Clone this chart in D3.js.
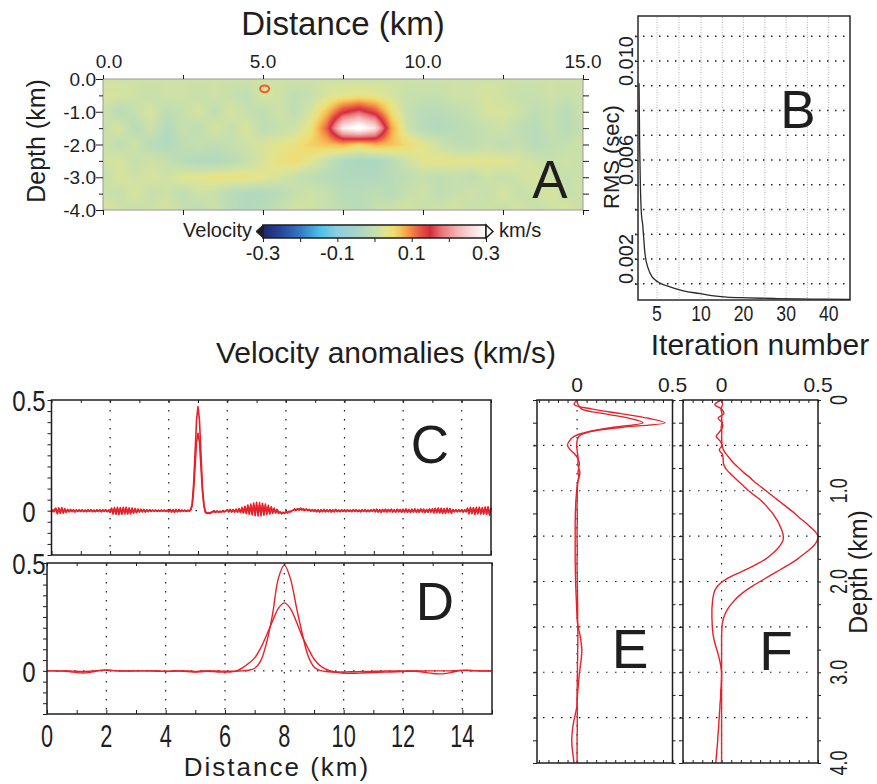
<!DOCTYPE html>
<html>
<head>
<meta charset="utf-8">
<script src="https://cdn.jsdelivr.net/npm/d3@7"></script>
<style>
  body { margin: 0; background: #fff; }
  svg { display: block; }
</style>
</head>
<body>
<svg id="fig" width="877" height="784"></svg>
<script>
// ---------------- data ----------------
// panel A: velocity anomaly (km/s), one row per depth 0..4 km (step 0.5), columns distance 0..15 km (step 0.5)
const gridStep = 0.5;
const gridA = [
  [0.01,0.01,0.01,0.01,0.01,0.01,0.01,0.01,0.01,0.01,0.015,0.01,0.01,0.01,0.01,0.01,0.01,0.01,0.01,0.01,0.01,0.01,0.01,0.01,0.01,0.01,0.01,0.01,0.01,0.01,0.01],
  [0.02,0.02,0.01,0.0,0.01,0.01,0.0,0.01,0.0,-0.01,0.02,0.01,-0.01,0.0,0.02,0.03,0.035,0.03,0.02,0.0,0.0,0.0,0.01,0.01,0.02,0.01,0.0,0.0,0.01,0.0,0.01],
  [0.01,-0.02,0.0,0.02,-0.01,0.0,0.02,-0.01,0.02,0.0,-0.01,0.01,-0.01,0.02,0.07,0.14,0.17,0.13,0.05,0.0,-0.02,-0.02,-0.01,0.0,0.02,0.02,0.01,-0.01,0.0,-0.02,0.01],
  [0.0,0.02,-0.02,0.01,-0.03,0.0,-0.01,0.02,0.0,0.02,-0.01,0.0,0.01,0.04,0.12,0.28,0.32,0.27,0.09,0.01,-0.02,-0.03,-0.02,-0.01,0.0,0.01,-0.01,-0.02,0.0,-0.02,0.0],
  [0.01,-0.01,0.01,-0.02,-0.03,-0.01,0.0,-0.01,0.0,0.01,0.02,0.03,0.04,0.06,0.07,0.08,0.06,0.08,0.07,0.05,0.03,0.01,-0.01,-0.01,0.0,-0.01,0.0,-0.02,-0.01,0.0,0.01],
  [0.01,0.02,0.0,0.01,0.0,-0.02,-0.03,-0.03,-0.02,0.0,0.02,0.04,0.05,0.03,0.0,-0.03,-0.04,-0.04,-0.02,0.01,0.03,0.035,0.03,0.03,0.03,0.03,0.02,0.01,0.0,0.01,0.0],
  [0.0,0.02,0.01,0.02,0.01,0.03,0.03,0.04,0.04,0.04,0.03,0.02,0.0,-0.01,-0.02,-0.03,-0.03,-0.03,-0.02,-0.01,0.0,-0.01,0.0,-0.01,0.01,0.0,0.01,0.02,0.01,0.0,0.01],
  [0.01,0.0,0.02,0.0,0.01,-0.01,0.01,0.0,-0.02,-0.03,-0.03,-0.02,0.0,0.01,0.0,-0.02,-0.02,-0.01,-0.02,0.0,0.01,-0.01,0.0,0.01,0.0,0.02,0.0,0.01,0.02,0.0,0.01],
  [0.02,0.01,0.0,0.01,0.02,0.0,-0.01,0.01,-0.02,-0.03,-0.02,0.0,0.02,0.01,0.0,-0.01,-0.02,0.0,0.01,0.02,0.0,0.01,0.02,0.0,0.01,0.0,0.02,0.0,0.01,0.02,0.0]
];
// small shallow body near 5 km
const smallBody = { dist: 5.05, depth: 0.3, rim: 0.12, core: 0.04 };
// colour bar (km/s -> colour)
const colorStops = [
  [-0.3, "#1d2570"], [-0.25, "#27489c"], [-0.2, "#3479c2"], [-0.15, "#49bde9"], [-0.1, "#8ed0e0"],
  [-0.05, "#a6d4c8"], [-0.02, "#b8dbb8"], [0.0, "#c6dfae"], [0.015, "#d2e2a2"], [0.03, "#e2e48e"],
  [0.05, "#efdd72"], [0.07, "#f5c25a"], [0.09, "#f59a45"], [0.12, "#e85a45"], [0.15, "#d42c3c"],
  [0.18, "#e87478"], [0.22, "#f3b0b0"], [0.26, "#fadada"], [0.3, "#ffffff"]
];
const barTicks = [-0.3, -0.2, -0.1, 0, 0.1, 0.2, 0.3];
const barLabels = [-0.3, -0.1, 0.1, 0.3];

// panel B: RMS misfit by iteration
const rmsIter = [2.92, 3.0, 3.08, 3.2, 3.34, 3.45, 3.61, 4.0, 4.4, 4.8, 5.2, 6.0, 6.9, 8.0, 9.9, 12.5, 16, 21, 28, 36, 45];
const rmsValue = [0.0091, 0.0064, 0.0049, 0.0038, 0.0034, 0.0029, 0.0022, 0.0016, 0.0013, 0.00115, 0.00105, 0.00093, 0.00082, 0.00071, 0.0006, 0.00052, 0.00046, 0.00043, 0.0004, 0.00038, 0.00037];
const rmsGridX = [5, 7.5, 10, 15, 20, 25, 30, 35, 40];
const rmsLabelX = [5, 10, 20, 30, 40];
const rmsGridY = [0.001, 0.002, 0.003, 0.004, 0.005, 0.006, 0.007, 0.008, 0.009, 0.010, 0.011];
const rmsLabelY = [0.010, 0.006, 0.002];

// panel C: profile at 0.05 km spacing (values in m/s), two models
const cStep = 0.05;
const cTrue = [
  2,-4,5,12,-14,13,-12,14,-11,10,-8,6,-5,6,-4,5,-6,4,-3,4,
  -3,4,-4,3,-4,4,-3,5,-4,3,-4,4,-3,4,-5,4,-3,5,-4,3,
  -8,12,-15,14,-16,15,-17,14,-16,15,-14,16,-15,13,-14,12,-11,10,-9,8,
  -6,7,-5,6,-6,5,-4,5,-3,3,-2,3,-3,2,-3,3,-2,3,-3,2,
  -5,6,-6,5,-7,6,-5,6,-4,3,-2,2,-3,2,-2,5,30,120,260,410,
  470,410,260,110,30,-8,-12,-10,-13,-9,-5,-3,-8,-2,-7,-4,-6,-2,-5,-1,
  4,-5,6,-6,5,-6,7,-7,10,-8,15,-10,20,-13,26,-16,30,-19,35,-22,
  38,-24,37,-23,34,-20,30,-17,24,-15,18,-12,12,-10,6,-12,-6,-14,-9,-12,
  -7,-10,-4,-6,0,2,8,2,10,3,12,4,9,2,8,1,6,-2,5,-3,
  5,-5,4,-6,5,-4,6,-5,4,-4,5,-6,4,-5,6,-4,3,-5,4,-3,
  3,-4,4,-3,3,-4,5,-3,4,-4,3,-5,4,-3,5,-4,3,-4,5,-3,
  6,-5,7,-6,5,-7,6,-5,7,-6,6,-5,7,-6,5,-6,7,-5,6,-7,
  7,-6,8,-7,6,-8,7,-6,8,-7,6,-7,8,-6,7,-8,6,-7,8,-6,
  9,-10,11,-9,12,-10,11,-12,10,-11,12,-9,10,-11,6,-5,4,-5,5,-4,
  5,-6,4,-5,12,-14,15,-13,14,-16,15,-14,16,-15,14,-15,17,-16,18,-20,
  15
];
const cInv = [
  0,3,-4,8,-10,9,-8,10,-7,6,-5,4,-3,4,-3,3,-4,3,-2,3,
  -2,3,-3,2,-3,3,-2,3,-3,2,-3,3,-2,3,-3,3,-2,3,-3,2,
  -5,8,-10,10,-11,10,-12,10,-11,10,-10,11,-10,9,-10,8,-8,7,-6,5,
  -4,5,-4,4,-4,3,-3,3,-2,2,-2,2,-2,2,-2,2,-2,2,-2,2,
  -3,4,-4,4,-5,4,-4,4,-3,2,-2,2,-2,1,0,3,20,90,200,310,
  350,310,200,90,25,-4,-9,-8,-10,-7,-4,-2,-6,-2,-5,-3,-4,-2,-4,-1,
  3,-4,4,-4,4,-4,5,-5,7,-6,10,-7,14,-9,18,-11,21,-13,24,-15,
  26,-16,25,-16,23,-14,21,-12,17,-10,13,-8,8,-8,4,-9,-5,-10,-7,-9,
  -5,-7,-3,-4,0,2,6,2,8,3,9,3,7,2,6,1,4,-1,4,-2,
  3,-3,3,-4,3,-3,4,-3,3,-3,3,-4,3,-3,4,-3,2,-3,3,-2,
  2,-3,3,-2,2,-3,3,-2,3,-3,2,-3,3,-2,3,-3,2,-3,3,-2,
  4,-3,5,-4,3,-5,4,-3,5,-4,4,-3,5,-4,3,-4,5,-3,4,-5,
  5,-4,6,-5,4,-6,5,-4,6,-5,4,-5,6,-4,5,-6,4,-5,6,-4,
  6,-7,8,-6,8,-7,8,-8,7,-8,8,-6,7,-8,4,-3,3,-3,3,-3,
  3,-4,3,-3,8,-10,10,-9,10,-11,10,-10,11,-10,10,-10,12,-11,12,-14,
  10
];

// panel D: profile at 0.2 km spacing (m/s)
const dStep = 0.2;
const dTrue = [
  0,0,0,0,0,-2,-3,-2,0,2,
  3,1,0,0,0,0,0,0,0,-1,
  -2,-1,0,0,-1,-3,-1,0,0,-1,
  -2,-2,-1,0,3,12,45,130,260,430,
  490,430,300,175,70,18,2,-3,-5,-5,
  -5,-4,-4,-3,-3,-2,-2,-1,-1,0,
  0,0,0,0,0,0,0,0,0,1,
  2,1,0,0,0,0
];
const dInv = [
  0,0,-1,-2,-4,-8,-10,-8,-3,2,
  4,2,0,-1,-1,0,0,0,-1,-2,
  -3,-2,-1,-2,-4,-6,-4,-2,-3,-5,
  -6,-5,0,15,35,60,105,165,230,290,
  315,290,230,160,105,55,25,8,-2,-8,
  -10,-11,-11,-10,-9,-8,-7,-6,-5,-4,
  -3,-2,-2,-4,-8,-12,-14,-13,-8,-2,
  2,3,1,0,-1,0
];

// panels E, F: vertical profiles at 0.05 km depth spacing (m/s)
const zStep = 0.05;
const eTrue = [
  0,-15,80,230,370,460,240,60,-15,-40,
  -50,-35,-10,5,12,8,15,10,4,0,
  -2,-4,-6,-7,-8,-9,-9,-10,-10,-10,
  -10,-10,-10,-10,-10,-10,-10,-9,-9,-8,
  -8,-7,-6,-5,-4,-3,-2,-1,0,2,
  6,11,16,20,23,25,24,22,19,16,
  13,10,8,6,4,2,1,0,-3,-8,
  -13,-18,-22,-25,-27,-28,-27,-25,-22,-19,
  -16
];
const eInv = [
  0,5,25,140,270,345,190,65,10,0,
  -2,0,3,6,4,8,5,9,4,2,
  1,1,1,0,0,1,1,1,0,0,
  0,0,1,1,1,0,0,0,1,1,
  1,1,2,2,2,3,3,3,3,3,
  3,4,4,4,4,3,3,3,2,2,
  2,1,1,1,0,0,0,0,1,1,
  1,1,1,1,0,0,0,0,0,0,
  0
];
const fTrue = [
  0,5,-3,2,0,2,-2,1,0,1,
  3,10,25,45,65,90,115,145,170,200,
  230,260,290,320,350,380,405,435,460,485,
  500,495,480,455,425,395,360,320,280,240,
  200,160,125,95,70,50,33,20,11,5,
  2,1,0,0,0,0,0,0,0,0,
  0,0,0,0,0,0,0,0,0,0,
  0,0,0,0,0,0,0,0,0,0,
  0
];
const fInv = [
  0,-35,0,12,-18,3,5,-10,-28,-8,
  2,-12,5,8,10,20,40,65,90,115,
  140,170,200,225,245,265,280,295,305,315,
  320,318,305,285,260,230,190,145,95,45,
  5,-20,-35,-42,-46,-48,-50,-50,-50,-49,
  -48,-46,-43,-38,-32,-25,-18,-12,-7,-3,
  0,0,-1,-2,-4,-5,-6,-8,-9,-11,
  -12,-14,-15,-17,-19,-20,-22,-24,-26,-28,
  -30
];

// ---------------- drawing ----------------
const svg = d3.select("#fig");
const INK = "#1e1e1e";
const RED = "#e8202a";
const SANS = "Liberation Sans, Arial, Helvetica, sans-serif";

function label(x, y, text, size, opts = {}) {
  const t = svg.append("text")
    .attr("x", x).attr("y", y)
    .attr("font-size", size)
    .attr("font-family", SANS)
    .attr("fill", INK)
    .attr("text-anchor", opts.anchor || "middle")
    .text(text);
  if (opts.rotate) t.attr("transform", `rotate(${opts.rotate},${x},${y})`);
  return t;
}

// squeeze glyphs horizontally to mimic the condensed numerals of the original
function condense(sel, ratio) {
  sel.each(function () {
    const w = this.getComputedTextLength();
    d3.select(this).attr("textLength", w * ratio).attr("lengthAdjust", "spacingAndGlyphs");
  });
}

function ticks(axis, at, values, size) {   // tick marks only
  svg.append("g").attr("transform", at)
    .call(axis.tickValues(values).tickSize(size).tickFormat(""))
    .call(g => g.select(".domain").remove())
    .call(g => g.selectAll("line").attr("stroke", INK).attr("stroke-width", 1));
}

function frame(x0, y0, x1, y1, color = INK, w = 1.5) {
  svg.append("rect").attr("x", x0).attr("y", y0)
    .attr("width", x1 - x0).attr("height", y1 - y0)
    .attr("fill", "none").attr("stroke", color).attr("stroke-width", w);
}

function dotGrid(lines, dash = "1.5,7.5", color = INK, w = 1.2) {
  svg.append("g").selectAll("line").data(lines).join("line")
    .attr("x1", d => d[0]).attr("y1", d => d[1])
    .attr("x2", d => d[2]).attr("y2", d => d[3])
    .attr("stroke", color).attr("stroke-width", w)
    .attr("stroke-dasharray", dash);
}

// ===== panel A =====
const xA = d3.scaleLinear().domain([0, 15]).range([103, 583]);
const yA = d3.scaleLinear().domain([0, -4]).range([79, 210]);
const vColor = d3.scaleLinear()
  .domain(colorStops.map(s => s[0]))
  .range(colorStops.map(s => s[1]))
  .clamp(true);

function sampleGrid(km, dep) {   // bilinear lookup in the grid, for the raster only
  const nx = gridA[0].length, nz = gridA.length;
  const fx = Math.max(0, Math.min(nx - 1.0001, km / gridStep));
  const fz = Math.max(0, Math.min(nz - 1.0001, dep / gridStep));
  const i = Math.floor(fx), j = Math.floor(fz);
  const tx = fx - i, tz = fz - j;
  return (1 - tx) * (1 - tz) * gridA[j][i] + tx * (1 - tz) * gridA[j][i + 1]
       + (1 - tx) * tz * gridA[j + 1][i] + tx * tz * gridA[j + 1][i + 1];
}

{
  const x0 = xA.range()[0], y0 = yA.range()[0];
  const W = Math.round(xA.range()[1] - x0), H = Math.round(yA.range()[1] - y0);
  const canvas = document.createElement("canvas");
  canvas.width = W; canvas.height = H;
  const ctx = canvas.getContext("2d");
  const img = ctx.createImageData(W, H);
  for (let py = 0; py < H; py++) {
    const dep = -yA.invert(y0 + py + 0.5);
    for (let px = 0; px < W; px++) {
      const km = xA.invert(x0 + px + 0.5);
      const c = d3.rgb(vColor(sampleGrid(km, dep)));
      const k = 4 * (py * W + px);
      img.data[k] = c.r; img.data[k + 1] = c.g; img.data[k + 2] = c.b; img.data[k + 3] = 255;
    }
  }
  ctx.putImageData(img, 0, 0);
  svg.append("image").attr("x", x0).attr("y", y0).attr("width", W).attr("height", H)
    .attr("preserveAspectRatio", "none")
    .attr("href", canvas.toDataURL());
}

svg.append("ellipse")
  .attr("cx", xA(smallBody.dist)).attr("cy", yA(-smallBody.depth))
  .attr("rx", 4.5).attr("ry", 3.4)
  .attr("fill", vColor(smallBody.core))
  .attr("stroke", vColor(smallBody.rim)).attr("stroke-width", 2);

frame(103, 79, 583, 210, "#9a9a9a", 1);

const kmTicks = [0, 2.5, 5, 7.5, 10, 12.5, 15];
ticks(d3.axisTop(xA), "translate(0,79)", kmTicks, 4);
ticks(d3.axisBottom(xA), "translate(0,210)", kmTicks, 5);
ticks(d3.axisLeft(yA), "translate(103,0)", [-0.5, -1.5, -2.5, -3.5], 4);
ticks(d3.axisLeft(yA), "translate(103,0)", [0, -1, -2, -3, -4], 7);
ticks(d3.axisRight(yA), "translate(583,0)", [0, -0.5, -1, -1.5, -2, -2.5, -3, -3.5, -4], 6);

svg.append("g").selectAll("text").data([0, 5, 10, 15]).join("text")
  .attr("x", d => xA(d) + (d === 0 ? 6 : 0)).attr("y", 68)
  .attr("text-anchor", "middle").attr("font-size", 19).attr("font-family", SANS).attr("fill", INK)
  .text(d => d.toFixed(1));
svg.append("g").selectAll("text").data([0, -1, -2, -3, -4]).join("text")
  .attr("x", 96).attr("y", d => yA(d) + 7)
  .attr("text-anchor", "end").attr("font-size", 19).attr("font-family", SANS).attr("fill", INK)
  .text(d => d.toFixed(1));

label(343, 35, "Distance (km)", 33);
label(45, 141, "Depth (km)", 25, { rotate: -90 });
label(550, 198, "A", 53);

// colour bar
const xBar = d3.scaleLinear().domain([-0.3, 0.3]).range([263, 486]);
const grad = svg.append("defs").append("linearGradient").attr("id", "vgrad");
grad.selectAll("stop").data(colorStops).join("stop")
  .attr("offset", d => (d[0] + 0.3) / 0.6)
  .attr("stop-color", d => d[1]);
svg.append("rect").attr("x", xBar(-0.3)).attr("y", 225)
  .attr("width", xBar(0.3) - xBar(-0.3)).attr("height", 13)
  .attr("fill", "url(#vgrad)").attr("stroke", INK).attr("stroke-width", 1.5);
svg.append("path").attr("d", `M${xBar(-0.3)},225 L${xBar(-0.3) - 7},231.5 L${xBar(-0.3)},238 Z`)
  .attr("fill", INK).attr("stroke", INK);
svg.append("path").attr("d", `M${xBar(0.3)},225 L${xBar(0.3) + 7},231.5 L${xBar(0.3)},238 Z`)
  .attr("fill", "#fff").attr("stroke", INK).attr("stroke-width", 1.5);
ticks(d3.axisBottom(xBar), "translate(0,238)", barTicks, 4);
svg.append("g").selectAll("text").data(barLabels).join("text")
  .attr("x", d => xBar(d)).attr("y", 260)
  .attr("text-anchor", "middle").attr("font-size", 20).attr("font-family", SANS).attr("fill", INK)
  .text(d => d.toFixed(1));
label(252, 237, "Velocity", 20, { anchor: "end" });
label(499, 237, "km/s", 20, { anchor: "start" });

// ===== panel B =====
const xB = d3.scaleLinear().domain([2.8, 5, 10, 45]).range([638, 657, 701, 850]);
const yB = d3.scaleLinear().domain([0.000343, 0.01182]).range([300, 16]);

dotGrid(rmsGridX.map(v => [xB(v), 17, xB(v), 299]), "1,1.5", "#b4b4b4", 1);
dotGrid(rmsGridY.map(v => [635, yB(v), 849, yB(v)]), "1.5,6.5", INK, 1.4);
ticks(d3.axisLeft(yB), "translate(638,0)", rmsGridY, 3);

svg.append("path")
  .datum(rmsIter.map((it, i) => [it, rmsValue[i]]))
  .attr("fill", "none").attr("stroke", "#2a2a2a").attr("stroke-width", 1.3)
  .attr("d", d3.line().x(d => xB(d[0])).y(d => yB(d[1])).curve(d3.curveMonotoneX));

frame(638, 16, 850, 300, "#2a2a2a", 1.5);

svg.append("g").selectAll("text").data(rmsLabelX).join("text")
  .attr("x", d => xB(d)).attr("y", 321)
  .attr("text-anchor", "middle").attr("font-size", 22).attr("font-family", SANS).attr("fill", INK)
  .text(d => d)
  .call(condense, 0.8);
svg.append("g").selectAll("text").data(rmsLabelY).join("text")
  .attr("transform", d => `translate(633,${yB(d)}) rotate(-90)`)
  .attr("text-anchor", "middle").attr("font-size", 20).attr("font-family", SANS).attr("fill", INK)
  .text(d => d.toFixed(3));
label(619, 157, "RMS (sec)", 22, { rotate: -90 });
label(760, 355, "Iteration number", 30);
label(798, 128, "B", 53);

label(386, 363, "Velocity anomalies (km/s)", 30);

// ===== panels C, D =====
const yC = d3.scaleLinear().domain([-0.2, 0.5]).range([555, 400]);
const xC = d3.scaleLinear().domain([0, 15]).range([51.5, 491]);
const yD = d3.scaleLinear().domain([-0.2, 0.5]).range([714, 563]);
const xD = d3.scaleLinear().domain([0, 15]).range([47, 492]);

const gridKm = [2, 4, 6, 8, 10, 12, 14];
const kmEvery = d3.range(0, 15.01, 1);
const ampEvery = d3.range(-0.2, 0.501, 0.05);

function profilePanel(x, y, step, series, curve, width) {
  const [xa, xb] = x.range(), [ya, yb] = y.range();
  dotGrid(gridKm.map(v => [x(v), yb + 1, x(v), ya - 1]));
  dotGrid([[xa, y(0), xb, y(0)]]);
  ticks(d3.axisLeft(y), `translate(${xa},0)`, ampEvery, 4);
  ticks(d3.axisTop(x), `translate(0,${ya})`, kmEvery, 4);
  ticks(d3.axisBottom(x), `translate(0,${yb})`, kmEvery, 3);
  const line = d3.line().x((d, i) => x(i * step)).y(d => y(d / 1000)).curve(curve);
  series.forEach(s => svg.append("path").datum(s)
    .attr("fill", "none").attr("stroke", RED).attr("stroke-width", width)
    .attr("stroke-linejoin", "round").attr("d", line));
  frame(xa, yb, xb, ya);
}

profilePanel(xC, yC, cStep, [cTrue, cInv], d3.curveLinear, 1.6);
profilePanel(xD, yD, dStep, [dTrue, dInv], d3.curveCatmullRom, 1.4);

[[yC, [0, 0.5]], [yD, [0, 0.5]]].forEach(([y, vals]) => {
  svg.append("g").selectAll("text").data(vals).join("text")
    .attr("x", 29).attr("y", d => y(d) + 11)
    .attr("text-anchor", "middle").attr("font-size", 30).attr("font-family", SANS).attr("fill", INK)
    .text(d => d)
    .call(condense, 0.8);
});
svg.append("g").selectAll("text").data([0, 2, 4, 6, 8, 10, 12, 14]).join("text")
  .attr("x", d => xD(d)).attr("y", 747)
  .attr("text-anchor", "middle").attr("font-size", 31).attr("font-family", SANS).attr("fill", INK)
  .text(d => d)
  .call(condense, 0.7);
label(277, 776, "Distance (km)", 26).attr("letter-spacing", 2);
label(430, 463, "C", 53);
label(435, 620, "D", 53);

// ===== panels E, F =====
const yZ = d3.scaleLinear().domain([0, 4]).range([400, 763]);
const xE = d3.scaleLinear().domain([-0.21, 0.5]).range([537, 672.5]);
const xF = d3.scaleLinear().domain([-0.2, 0.5]).range([683, 818]);
const depGrid = [0.5, 1, 1.5, 2, 2.5, 3, 3.5];

function depthPanel(x, series) {
  const [xa, xb] = x.range(), [ya, yb] = yZ.range();
  dotGrid(depGrid.map(v => [xa - 3, yZ(v), xb - 3, yZ(v)]));
  dotGrid([[x(0), ya + 1, x(0), yb - 1]]);
  ticks(d3.axisLeft(yZ), `translate(${xa},0)`, d3.range(0, 4.01, 0.25), 4);
  ticks(d3.axisRight(yZ), `translate(${xb},0)`, d3.range(0, 4.01, 0.25), 3);
  ticks(d3.axisBottom(x), `translate(0,${ya})`, d3.range(-0.2, 0.501, 0.05), 3);
  ticks(d3.axisTop(x), `translate(0,${yb})`, d3.range(-0.2, 0.501, 0.05), 3);
  const line = d3.line().x(d => x(d / 1000)).y((d, i) => yZ(i * zStep)).curve(d3.curveCatmullRom);
  series.forEach(s => svg.append("path").datum(s)
    .attr("fill", "none").attr("stroke", RED).attr("stroke-width", 1.4)
    .attr("stroke-linejoin", "round").attr("d", line));
  frame(xa, ya, xb, yb);
  svg.append("g").selectAll("text").data([0, 0.5]).join("text")
    .attr("x", d => x(d)).attr("y", 392)
    .attr("text-anchor", "middle").attr("font-size", 21).attr("font-family", SANS).attr("fill", INK)
    .text(d => d);
}
depthPanel(xE, [eTrue, eInv]);
depthPanel(xF, [fTrue, fInv]);

svg.append("g").selectAll("text").data([0, 1, 2, 3, 4]).join("text")
  .attr("transform", d => `translate(847,${yZ(d)}) rotate(-90)`)
  .attr("text-anchor", "middle").attr("font-size", 23).attr("font-family", SANS).attr("fill", INK)
  .text(d => d === 0 ? "0" : d.toFixed(1))
  .call(condense, 0.78);
label(867, 572, "Depth (km)", 25, { rotate: -90 });
label(630, 668, "E", 55);
label(776, 670, "F", 55);
</script>
</body>
</html>
